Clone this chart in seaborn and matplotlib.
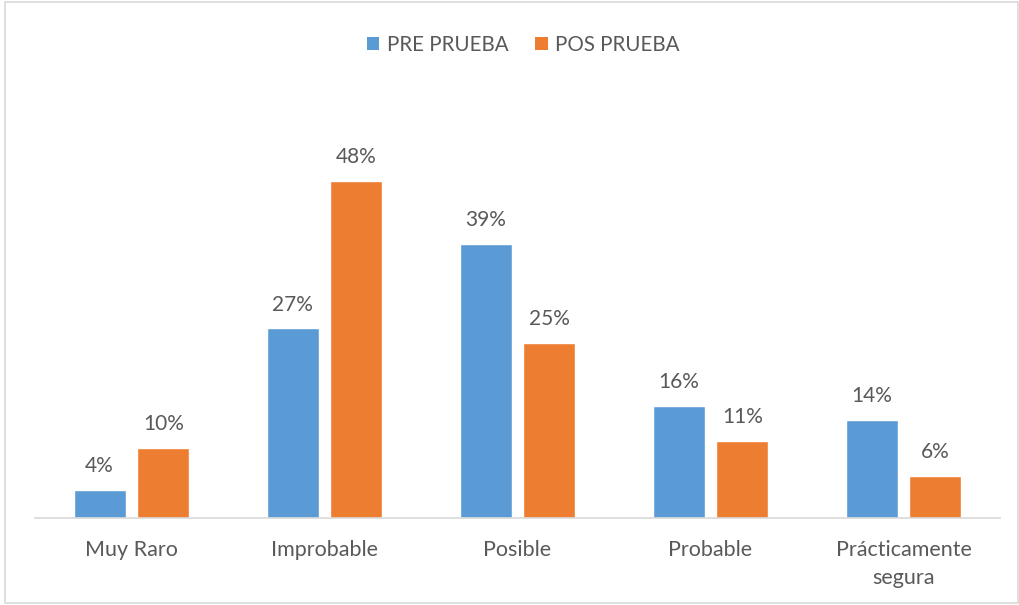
import matplotlib
matplotlib.use("Agg")
import matplotlib.pyplot as plt
import seaborn as sns
import pandas as pd
from matplotlib.patches import Rectangle, Patch

categories = ["Muy Raro", "Improbable", "Posible", "Probable", "Prácticamente\nsegura"]
pre_prueba = [4, 27, 39, 16, 14]
pos_prueba = [10, 48, 25, 11, 6]
series_names = ["PRE PRUEBA", "POS PRUEBA"]
colors = ["#5B9BD5", "#ED7D31"]

df = pd.DataFrame({
    "cat": categories * 2,
    "val": pre_prueba + pos_prueba,
    "serie": [series_names[0]] * len(categories) + [series_names[1]] * len(categories),
})

sns.set_theme(style="white")
plt.rcParams["font.family"] = ["Lato", "DejaVu Sans"]
text_color = "#595959"

fig = plt.figure(figsize=(10.2, 6.05), dpi=100)
ax = fig.add_axes([35 / 1020, 87 / 605, 965 / 1020, 351 / 605])

sns.barplot(data=df, x="cat", y="val", hue="serie", palette=colors,
            order=categories, hue_order=series_names,
            width=0.663, gap=0.187, ax=ax, legend=False, saturation=1)

for cont in ax.containers:
    ax.bar_label(cont, labels=[f"{v:.0f}%" for v in cont.datavalues],
                 padding=10, fontsize=15, color=text_color)

ax.set_xlim(-0.5, 4.5)
ax.set_ylim(0, 50)
ax.set_yticks([])
ax.set_xlabel("")
ax.set_ylabel("")
for s in ["top", "right", "left"]:
    ax.spines[s].set_visible(False)
ax.spines["bottom"].set_color("#D9D9D9")
ax.spines["bottom"].set_linewidth(1.2)
ax.tick_params(axis="x", length=0, pad=16, labelsize=15.5, labelcolor=text_color)
for lbl in ax.get_xticklabels():
    lbl.set_linespacing(1.5)

handles = [Patch(facecolor=c, edgecolor="none") for c in colors]
fig.legend(handles, series_names, loc="center", bbox_to_anchor=(523 / 1020, 1 - 45 / 605),
           ncol=2, frameon=False, fontsize=14.8, labelcolor=text_color,
           handlelength=0.62, handleheight=0.62, handletextpad=0.35, columnspacing=1.3)

fig.patches.append(Rectangle((5 / 1020, 2 / 605), 1013 / 1020, 601 / 605,
                             transform=fig.transFigure, fill=False,
                             edgecolor="#D9D9D9", linewidth=1.2))

fig.savefig("out.png", dpi=100)
